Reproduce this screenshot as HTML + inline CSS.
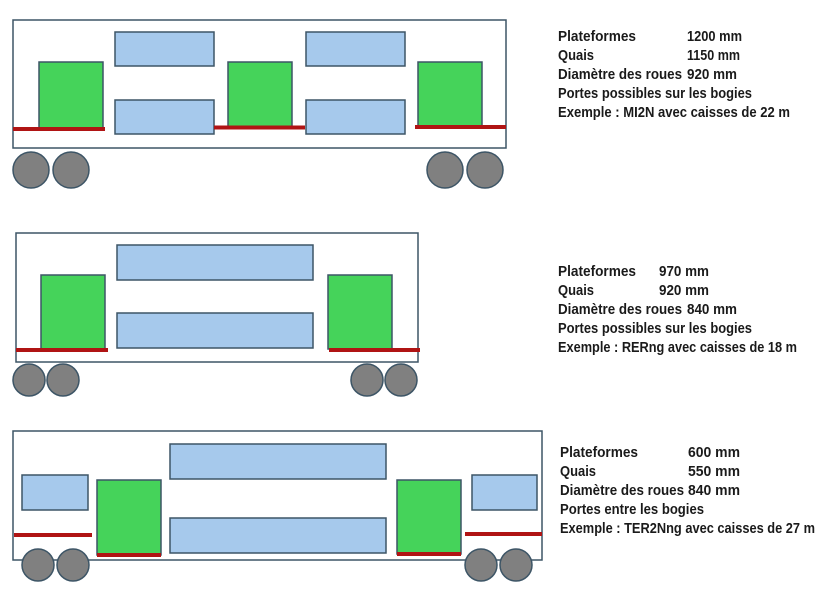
<!DOCTYPE html>
<html><head><meta charset="utf-8"><style>
html,body{margin:0;padding:0;background:#fff;width:824px;height:600px;overflow:hidden}
svg text{font-family:"Liberation Sans",sans-serif;font-weight:bold;font-size:15px;fill:#1a1a1a}
</style></head><body>
<svg width="824" height="600" viewBox="0 0 824 600" xmlns="http://www.w3.org/2000/svg">
<g stroke="#3d5566" stroke-width="1.5">
<rect x="13" y="20" width="493" height="128" fill="#fff"/>
<g fill="#a6c9ec">
<rect x="115" y="32" width="99" height="34"/><rect x="115" y="100" width="99" height="34"/>
<rect x="306" y="32" width="99" height="34"/><rect x="306" y="100" width="99" height="34"/>
</g>
<g fill="#45d35a">
<rect x="39" y="62" width="64" height="66"/><rect x="228" y="62" width="64" height="65"/><rect x="418" y="62" width="64" height="65"/>
</g>
<g fill="#808080"><circle cx="31" cy="170" r="18"/><circle cx="71" cy="170" r="18"/><circle cx="445" cy="170" r="18"/><circle cx="485" cy="170" r="18"/></g>
<rect x="16" y="233" width="402" height="129" fill="#fff"/>
<g fill="#a6c9ec"><rect x="117" y="245" width="196" height="35"/><rect x="117" y="313" width="196" height="35"/></g>
<g fill="#45d35a"><rect x="41" y="275" width="64" height="74"/><rect x="328" y="275" width="64" height="74"/></g>
<g fill="#808080"><circle cx="29" cy="380" r="16"/><circle cx="63" cy="380" r="16"/><circle cx="367" cy="380" r="16"/><circle cx="401" cy="380" r="16"/></g>
<rect x="13" y="431" width="529" height="129" fill="#fff"/>
<g fill="#a6c9ec">
<rect x="170" y="444" width="216" height="35"/><rect x="170" y="518" width="216" height="35"/>
<rect x="22" y="475" width="66" height="35"/><rect x="472" y="475" width="65" height="35"/>
</g>
<g fill="#45d35a"><rect x="97" y="480" width="64" height="75"/><rect x="397" y="480" width="64" height="74"/></g>
<g fill="#808080"><circle cx="38" cy="565" r="16"/><circle cx="73" cy="565" r="16"/><circle cx="481" cy="565" r="16"/><circle cx="516" cy="565" r="16"/></g>
</g>
<g stroke="#b01414" stroke-width="4">
<line x1="13" y1="129" x2="105" y2="129"/><line x1="214" y1="127.5" x2="305" y2="127.5"/><line x1="415" y1="127" x2="506" y2="127"/>
<line x1="16" y1="350" x2="108" y2="350"/><line x1="329" y1="350" x2="420" y2="350"/>
<line x1="14" y1="535" x2="92" y2="535"/><line x1="97" y1="555" x2="161" y2="555"/><line x1="397" y1="554" x2="461" y2="554"/><line x1="465" y1="534" x2="542" y2="534"/>
</g>
<g lengthAdjust="spacingAndGlyphs">
<text x="558" y="41" textLength="78" lengthAdjust="spacingAndGlyphs">Plateformes</text><text x="687" y="41" textLength="55" lengthAdjust="spacingAndGlyphs">1200 mm</text>
<text x="558" y="60" textLength="36" lengthAdjust="spacingAndGlyphs">Quais</text><text x="687" y="60" textLength="53" lengthAdjust="spacingAndGlyphs">1150 mm</text>
<text x="558" y="79" textLength="124" lengthAdjust="spacingAndGlyphs">Diamètre des roues</text><text x="687" y="79" textLength="50" lengthAdjust="spacingAndGlyphs">920 mm</text>
<text x="558" y="98" textLength="194" lengthAdjust="spacingAndGlyphs">Portes possibles sur les bogies</text>
<text x="558" y="117" textLength="232" lengthAdjust="spacingAndGlyphs">Exemple : MI2N avec caisses de 22 m</text>

<text x="558" y="276" textLength="78" lengthAdjust="spacingAndGlyphs">Plateformes</text><text x="659" y="276" textLength="50" lengthAdjust="spacingAndGlyphs">970 mm</text>
<text x="558" y="295" textLength="36" lengthAdjust="spacingAndGlyphs">Quais</text><text x="659" y="295" textLength="50" lengthAdjust="spacingAndGlyphs">920 mm</text>
<text x="558" y="314" textLength="124" lengthAdjust="spacingAndGlyphs">Diamètre des roues</text><text x="687" y="314" textLength="50" lengthAdjust="spacingAndGlyphs">840 mm</text>
<text x="558" y="333" textLength="194" lengthAdjust="spacingAndGlyphs">Portes possibles sur les bogies</text>
<text x="558" y="352" textLength="239" lengthAdjust="spacingAndGlyphs">Exemple : RERng avec caisses de 18 m</text>

<text x="560" y="457" textLength="78" lengthAdjust="spacingAndGlyphs">Plateformes</text><text x="688" y="457" textLength="52" lengthAdjust="spacingAndGlyphs">600 mm</text>
<text x="560" y="476" textLength="36" lengthAdjust="spacingAndGlyphs">Quais</text><text x="688" y="476" textLength="52" lengthAdjust="spacingAndGlyphs">550 mm</text>
<text x="560" y="495" textLength="124" lengthAdjust="spacingAndGlyphs">Diamètre des roues</text><text x="688" y="495" textLength="52" lengthAdjust="spacingAndGlyphs">840 mm</text>
<text x="560" y="514" textLength="144" lengthAdjust="spacingAndGlyphs">Portes entre les bogies</text>
<text x="560" y="533" textLength="255" lengthAdjust="spacingAndGlyphs">Exemple : TER2Nng avec caisses de 27 m</text>
</g>
</svg>
</body></html>
